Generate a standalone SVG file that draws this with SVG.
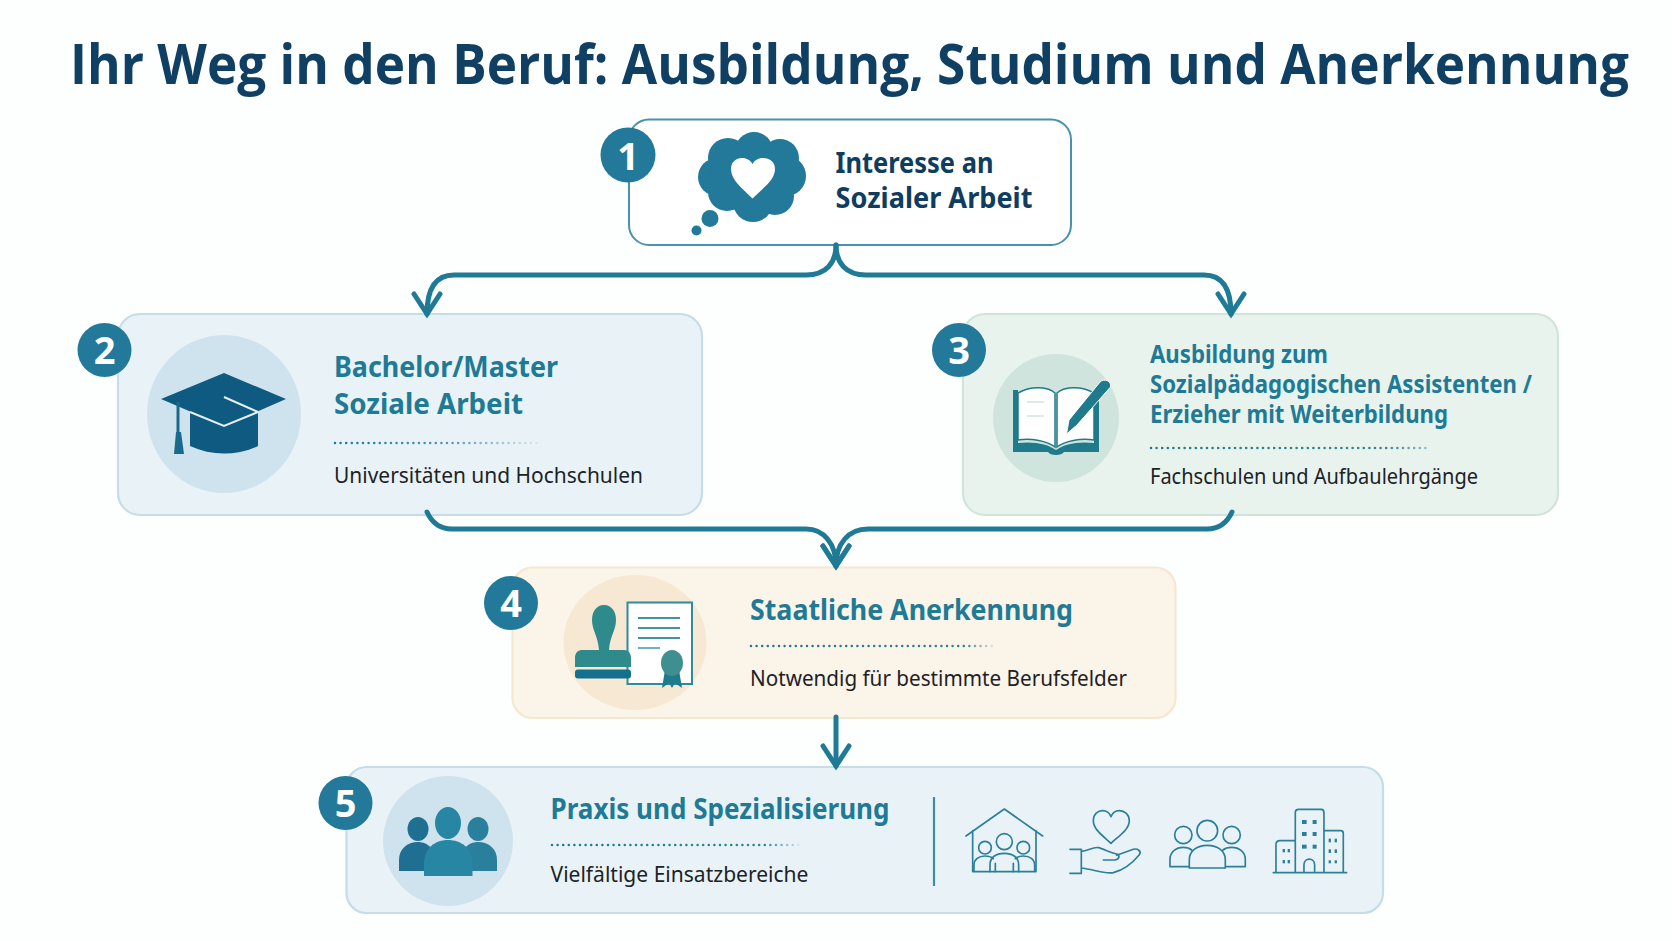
<svg xmlns="http://www.w3.org/2000/svg" width="1672" height="941" viewBox="0 0 1672 941">
<style>
text{font-family:"Noto Sans","Open Sans","Liberation Sans",sans-serif}
.title{font-family:"Open Sans","Noto Sans",sans-serif;font-size:55px;font-weight:700;fill:#0f3f63}
.h1{font-size:28px;font-weight:700;fill:#0e3d60}
.h2{font-size:29px;font-weight:700;fill:#1f7a96}
.h3{font-size:25px;font-weight:700;fill:#1f7a96}
.sub{font-size:22px;font-weight:400;fill:#1c2226}
.num{font-size:38px;font-weight:700;fill:#fff;text-anchor:middle}
.badge{fill:#22799a}
.card{stroke-width:2.2}
.blue{fill:#e9f3f7;stroke:#c4dde8}
.green{fill:#e9f3ee;stroke:#d0e4d9}
.sand{fill:#fbf4e8;stroke:#f5e8d0}
.conn{fill:none;stroke:#1f7a96;stroke-width:5;stroke-linecap:round}
.dots{fill:none;stroke-width:2.6;stroke-linecap:round;stroke-dasharray:0 5.6}
.ln{fill:none;stroke:#2b7f99;stroke-width:5;stroke-linecap:round;stroke-linejoin:round}
</style>
<defs>
<marker id="arrow" markerUnits="userSpaceOnUse" markerWidth="36" markerHeight="40" viewBox="-26 -20 36 40" refX="0" refY="0" orient="auto">
<path d="M-20 -13L0 0L-20 13" fill="none" stroke="#1f7a96" stroke-width="5" stroke-linecap="round"/>
</marker>
<linearGradient id="d2" gradientUnits="userSpaceOnUse" x1="334" y1="0" x2="542" y2="0"><stop offset="0" stop-color="#1f7a96"/><stop offset=".5" stop-color="#4f95ad"/><stop offset="1" stop-color="#1f7a96" stop-opacity=".05"/></linearGradient>
<linearGradient id="d3" gradientUnits="userSpaceOnUse" x1="1150" y1="0" x2="1430" y2="0"><stop offset="0" stop-color="#1f7a96"/><stop offset=".85" stop-color="#2f8499"/><stop offset="1" stop-color="#1f7a96" stop-opacity=".4"/></linearGradient>
<linearGradient id="d4" gradientUnits="userSpaceOnUse" x1="750" y1="0" x2="994" y2="0"><stop offset="0" stop-color="#1f7a96"/><stop offset=".88" stop-color="#2f8499"/><stop offset="1" stop-color="#1f7a96" stop-opacity=".1"/></linearGradient>
<linearGradient id="d5" gradientUnits="userSpaceOnUse" x1="551" y1="0" x2="802" y2="0"><stop offset="0" stop-color="#1f7a96"/><stop offset=".85" stop-color="#2f8499"/><stop offset="1" stop-color="#1f7a96" stop-opacity=".05"/></linearGradient>
</defs>
<rect width="1672" height="941" fill="#fdfefe"/>
<text class="title" x="70" y="84" textLength="1559" lengthAdjust="spacingAndGlyphs">Ihr Weg in den Beruf: Ausbildung, Studium und Anerkennung</text>

<g id="node-1">
<rect x="629" y="119.500" width="442" height="125.500" rx="20" fill="#fff" stroke="#4a92ab" stroke-width="2"/>
<g fill="#22799a">
<circle cx="754" cy="151" r="19"/><circle cx="728" cy="158" r="20"/><circle cx="780" cy="158" r="19"/><circle cx="786" cy="176" r="20"/><circle cx="775" cy="196" r="19"/><circle cx="753" cy="202" r="20"/><circle cx="727" cy="192" r="19"/><circle cx="717" cy="177" r="19"/><ellipse cx="752" cy="177" rx="42" ry="36"/>
<circle cx="710" cy="218.500" r="8.500"/><circle cx="696.500" cy="230.500" r="5"/>
</g>
<path d="M752.500 198.500C742 188 731 180 731 169C731 162 736 158 742 158C747 158 750.500 160.500 752.500 164C754.500 160.500 758 158 763 158C770 158 775 162 775 169C775 180 763 188 752.500 198.500Z" fill="#fff"/>
<text class="h1" x="835.500" y="173" textLength="158" lengthAdjust="spacingAndGlyphs">Interesse an</text>
<text class="h1" x="835.500" y="208" textLength="197" lengthAdjust="spacingAndGlyphs">Sozialer Arbeit</text>
<circle class="badge" cx="628" cy="155" r="27.500"/><text class="num" x="628" y="170">1</text>
</g>

<g id="node-2">
<rect class="card blue" x="118" y="314" width="584" height="201" rx="22"/>
<ellipse cx="224" cy="414" rx="77" ry="79" fill="#cfe3ee"/>
<path d="M190 408V446C212 456 236 456 258 446V408Z" fill="#0f5a80"/>
<path d="M161 399L224 373L286 399L224 426Z" fill="#0f5a80"/>
<path d="M190 412L224 426L258 412M258 412L224 397" fill="none" stroke="#e6f0f5" stroke-width="2"/>
<path d="M178 402V432" stroke="#1a6a8c" stroke-width="3" fill="none"/>
<path d="M176 432H181L184 454H174Z" fill="#1a6a8c"/>
<text class="h2" x="334" y="377" textLength="224" lengthAdjust="spacingAndGlyphs">Bachelor/Master</text>
<text class="h2" x="334" y="414" textLength="189" lengthAdjust="spacingAndGlyphs">Soziale Arbeit</text>
<path class="dots" stroke="url(#d2)" d="M335 443H541"/>
<text class="sub" x="334" y="483" textLength="309" lengthAdjust="spacingAndGlyphs">Universitäten und Hochschulen</text>
<circle class="badge" cx="104.500" cy="350" r="27"/><text class="num" x="104.500" y="364">2</text>
</g>

<g id="node-3">
<rect class="card green" x="963" y="314" width="595" height="201" rx="22"/>
<ellipse cx="1056" cy="418" rx="63" ry="64" fill="#cfe4dc"/>
<path d="M1013 390H1018V443C1034 441 1048 444 1056 450C1064 444 1078 441 1094 443V390H1099V452H1064C1062 456 1050 456 1048 452H1013Z" fill="#1f7a8c"/>
<path d="M1018 393C1030 386 1047 386 1055 393V447C1047 441 1032 438 1018 440Z" fill="#fff" stroke="#1f7a8c" stroke-width="1.500"/>
<path d="M1094 393C1082 386 1065 386 1057 393V447C1065 441 1080 438 1094 440Z" fill="#fff" stroke="#1f7a8c" stroke-width="1.500"/>
<path d="M1027 402H1044M1027 416H1044" stroke="#dfe9e6" stroke-width="2" fill="none"/>
<path d="M1066.500 434L1069 420L1100 382C1104 378 1112 381 1110.500 387L1077 425Z" fill="#1f7a8c" stroke="#fff" stroke-width="1"/>
<text class="h3"><tspan x="1150" y="363" textLength="178" lengthAdjust="spacingAndGlyphs">Ausbildung zum</tspan><tspan x="1150" y="393" textLength="382" lengthAdjust="spacingAndGlyphs">Sozialpädagogischen Assistenten /</tspan><tspan x="1150" y="423" textLength="298" lengthAdjust="spacingAndGlyphs">Erzieher mit Weiterbildung</tspan></text>
<path class="dots" stroke="url(#d3)" d="M1151 448H1429"/>
<text class="sub" x="1150" y="484" textLength="328" lengthAdjust="spacingAndGlyphs">Fachschulen und Aufbaulehrgänge</text>
<circle class="badge" cx="959" cy="350" r="27"/><text class="num" x="959" y="364">3</text>
</g>

<g id="node-4">
<rect class="card sand" x="512.500" y="567.500" width="663" height="150.500" rx="20"/>
<ellipse cx="635" cy="642.500" rx="71.500" ry="67.500" fill="#f6e8d3"/>
<rect x="627.500" y="602.500" width="64.500" height="81.500" fill="#fff" stroke="#2f8a9c" stroke-width="2"/>
<path d="M638 618H680M638 628H680M638 638H680" stroke="#3f93a3" stroke-width="2" fill="none"/>
<path d="M638 648H660" stroke="#6fb3bc" stroke-width="2" fill="none"/>
<path d="M665 670L662 688L669 683L672 688L675 683L682 688L679 670Z" fill="#1f7a8c"/>
<ellipse cx="672" cy="663" rx="11" ry="13" fill="#3f8f90"/>
<path d="M604 605C612 605 616 612 616 620C616 630 610 636 609 650H624C629 650 631 654 631 658V667H575V658C575 654 577 650 582 650H599C598 636 592 630 592 620C592 612 596 605 604 605Z" fill="#2f8a8c"/>
<rect x="575" y="669.500" width="56" height="9" rx="3" fill="#15708e"/>
<text class="h2" x="750" y="620" textLength="323" lengthAdjust="spacingAndGlyphs">Staatliche Anerkennung</text>
<path class="dots" stroke="url(#d4)" d="M751 646H992"/>
<text class="sub" x="750" y="686" textLength="377" lengthAdjust="spacingAndGlyphs">Notwendig für bestimmte Berufsfelder</text>
<circle class="badge" cx="511" cy="603" r="27"/><text class="num" x="511" y="617">4</text>
</g>

<g id="node-5">
<rect class="card blue" x="346.500" y="767" width="1036.500" height="146" rx="20"/>
<ellipse cx="448" cy="841" rx="65" ry="65" fill="#cfe3ee"/>
<g fill="#1f6f92">
<ellipse cx="418" cy="829" rx="10.500" ry="12"/>
<path d="M399 871V860C399 849 407 842 418 842C423 842 428 844 431 848L425 871Z"/>
</g>
<g fill="#2a7f9c">
<ellipse cx="478" cy="829" rx="10.500" ry="12"/>
<path d="M497 871V860C497 849 489 842 478 842C473 842 468 844 465 848L471 871Z"/>
</g>
<g fill="#2786a3">
<ellipse cx="448" cy="823" rx="13" ry="16"/>
<path d="M424 876V864C424 848 435 840 448 840C461 840 472.500 848 472.500 864V876Z"/>
</g>
<text class="h3" x="550.500" y="819" textLength="339" lengthAdjust="spacingAndGlyphs" style="font-size:28px">Praxis und Spezialisierung</text>
<path class="dots" stroke="url(#d5)" d="M552 845H800"/>
<text class="sub" x="550.500" y="882" textLength="258" lengthAdjust="spacingAndGlyphs">Vielfältige Einsatzbereiche</text>
<path d="M934 797V886" stroke="#3f8ba3" stroke-width="2.200" fill="none"/>
<g transform="translate(920 780) scale(.3333)" class="ln">
<path d="M138 168L253 87L368 168M158 152V275H348V152"/>
<circle cx="253" cy="185" r="24"/><circle cx="195" cy="203" r="19"/><circle cx="310" cy="203" r="19"/>
<path d="M210 275V255C210 232 228 220 253 220C278 220 296 232 296 255V275M162 272V255C162 238 176 228 195 228C205 228 213 230 220 236M344 272V255C344 238 330 228 310 228C300 228 293 230 286 236"/>
<path d="M226 275V250M280 275V250"/>
<path d="M573 190C555 172 520 150 520 122C520 102 534 92 548 92C560 92 569 100 573 110C577 100 586 92 598 92C614 92 628 104 628 122C628 150 591 172 573 190Z"/>
<path d="M450 208H484V280H450M484 214C505 212 520 200 535 203C550 206 570 218 590 222C600 224 600 238 585 240H550M590 226L640 208C652 204 666 214 658 224C640 246 610 270 580 278C550 282 520 268 484 264"/>
<circle cx="862" cy="152" r="31"/><circle cx="790" cy="165" r="26"/><circle cx="935" cy="165" r="26"/>
<path d="M808 264V240C808 212 832 196 862 196C892 196 916 212 916 240V264ZM808 260H750V238C750 216 768 202 790 202C800 202 808 204 815 210M916 260H976V238C976 216 958 202 935 202C925 202 916 204 909 210"/>
<path d="M1060 278H1280M1068 278V194C1068 186 1072 182 1080 182H1126M1126 278V98C1126 92 1130 88 1136 88H1204C1208 88 1212 92 1212 98V278M1212 152H1262C1268 152 1270 156 1270 160V278M1152 278V254C1152 232 1184 232 1184 254V278"/>
<g fill="#2b7f99" stroke="none"><rect x="1146" y="120" width="14" height="12"/><rect x="1178" y="120" width="12" height="12"/><rect x="1146" y="156" width="14" height="12"/><rect x="1178" y="156" width="12" height="12"/><rect x="1146" y="194" width="14" height="12"/><rect x="1178" y="194" width="12" height="12"/><rect x="1226" y="176" width="7" height="11"/><rect x="1244" y="176" width="7" height="11"/><rect x="1226" y="208" width="7" height="11"/><rect x="1244" y="208" width="7" height="11"/><rect x="1226" y="241" width="7" height="9"/><rect x="1244" y="241" width="7" height="9"/><rect x="1088" y="207" width="7" height="10"/><rect x="1103" y="207" width="7" height="10"/><rect x="1088" y="240" width="7" height="10"/><rect x="1103" y="240" width="7" height="10"/></g>
</g>
<circle class="badge" cx="345.500" cy="803" r="27"/><text class="num" x="345.500" y="817">5</text>
</g>

<g id="connectors">
<path class="conn" marker-end="url(#arrow)" d="M836 245C836 263 826 275 806 275H454C436 275 427 288 427 314"/>
<path class="conn" marker-end="url(#arrow)" d="M836 245C836 263 846 275 866 275H1204C1222 275 1231 288 1231 314"/>
<path class="conn" marker-end="url(#arrow)" d="M427 512C432 523 440 529 452 529H806C824 529 836 544 836 566"/>
<path class="conn" marker-end="url(#arrow)" d="M1232 512C1227 523 1219 529 1207 529H868C848 529 836 544 836 566"/>
<path class="conn" marker-end="url(#arrow)" d="M836 717V766"/>
</g>
</svg>
